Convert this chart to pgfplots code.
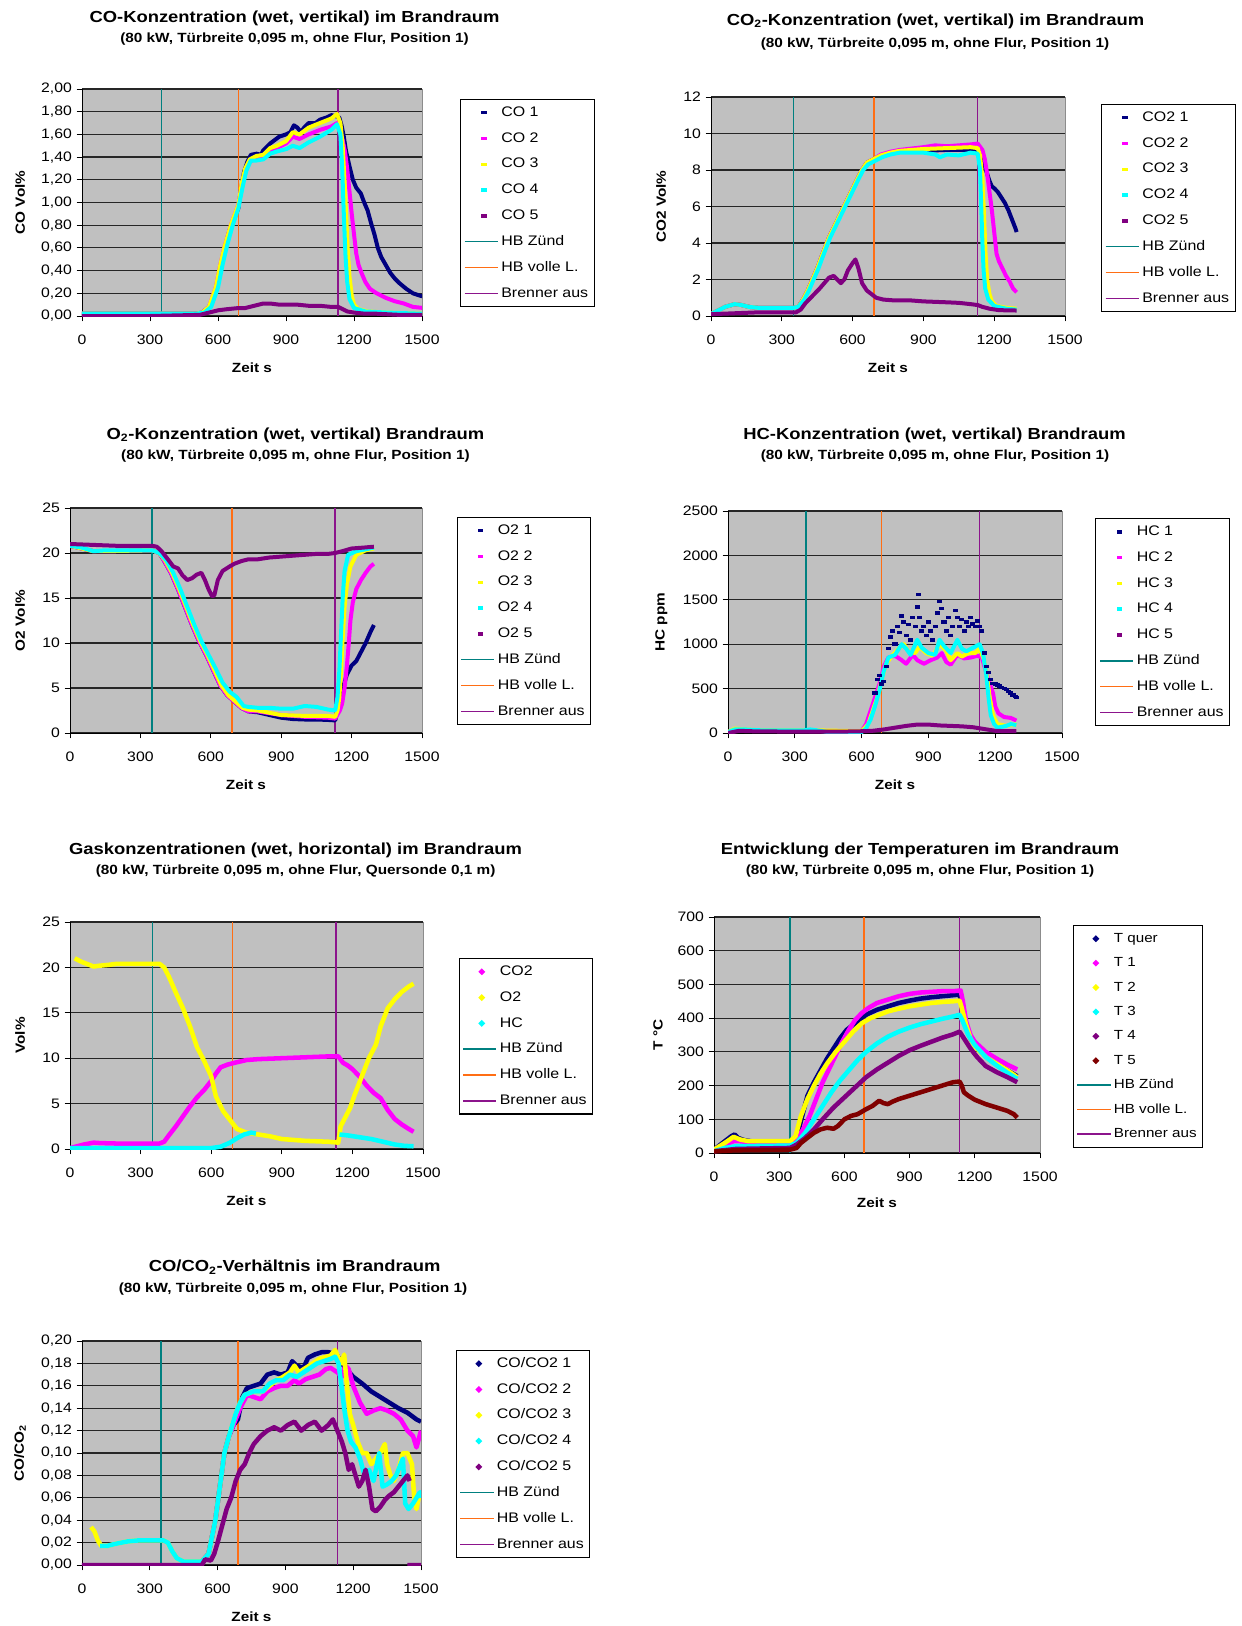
\documentclass[border=0pt]{standalone}
\usepackage{pgfplots}
\pgfplotsset{compat=1.18}
\usepackage{fontspec}
\setmainfont{Liberation Sans}[FakeStretch=1.15]
\definecolor{cnavy}{RGB}{0,0,128}
\definecolor{cmag}{RGB}{255,0,255}
\definecolor{cyel}{RGB}{255,255,0}
\definecolor{ccyan}{RGB}{0,255,255}
\definecolor{cpur}{RGB}{128,0,128}
\definecolor{cmar}{RGB}{128,0,0}
\definecolor{hbz}{RGB}{0,128,128}
\definecolor{hbv}{RGB}{255,110,20}
\definecolor{hba}{RGB}{140,20,140}
\definecolor{plotbg}{RGB}{192,192,192}

\pgfplotsset{
  excel/.style={
    scale only axis,
    xmin=0, xmax=1500, ymin=0,
    xtick={0,300,600,900,1200,1500},
    axis x line*=bottom, axis y line*=left,
    axis background/.style={fill=plotbg, draw=black!45, line width=0.5pt},
    ymajorgrids, grid style={black!85, line width=0.9pt},
    tick align=outside, major tick length=4pt,
    tick style={black, line width=0.7pt},
    axis line style={black, line width=0.7pt},
    ticklabel style={font=\fontsize{10.3}{12}\selectfont},
    xticklabel style={yshift=-7pt},
    scaled ticks=false,
    /pgf/number format/assume math mode=true,
    /pgf/number format/set thousands separator={},
    xlabel={Zeit s},
    xlabel style={at={(rel axis cs:0.5,0)}, anchor=center, yshift=-39pt, font=\bfseries\fontsize{10}{12}\selectfont},
    legend cell align=left,
    legend style={anchor=north west, draw=black, line width=0.8pt, fill=white,
      font=\fontsize{10.4}{12}\selectfont, inner xsep=2.5pt, inner ysep=2.6pt, row sep=4.86pt,
      nodes={inner sep=2pt, text height=8pt, text depth=2.5pt}},
    unbounded coords=jump,
  },
  ylab/.style 2 args={ylabel={#1}, every axis y label/.style={at={(rel axis cs:0,0.5)}, xshift=-#2, rotate=90, anchor=center, font=\bfseries\fontsize{10}{12}\selectfont}},
  dashleg/.style={legend image code/.code={\path[draw=none,fill=none] (0pt,-2pt) rectangle (25pt,2pt); \fill[draw=none] (12.5pt,-1.3pt) rectangle (16.5pt,1.3pt);}},
  diamleg/.style={legend image code/.code={\path[draw=none,fill=none] (0pt,-2pt) rectangle (25pt,2pt); \fill[draw=none] (14pt,-2.6pt) -- (16.6pt,0pt) -- (14pt,2.6pt) -- (11.4pt,0pt) -- cycle;}},
  ser/.style={line width=3pt, line join=round, dashleg},
  sert/.style={line width=3.4pt, line join=round, diamleg},
  two/.style={yticklabel style={/pgf/number format/.cd, fixed, fixed zerofill, precision=2, use comma}},
}

\newcommand{\vlines}[1]{%
  \addplot[forget plot, hbz, line width=1.2pt] coordinates {(350,0) (350,#1)};
  \addplot[forget plot, hbv, line width=1.2pt] coordinates {(690,0) (690,#1)};
  \addplot[forget plot, hba, line width=1.2pt] coordinates {(1130,0) (1130,#1)};
}
\newcommand{\vlegend}{%
  \addlegendimage{hbz, legend image code/.code={\draw[line width=1.1pt] (0pt,0pt) -- (25pt,0pt);}}
  \addlegendentry{HB Zünd}
  \addlegendimage{hbv, legend image code/.code={\draw[line width=1.1pt] (0pt,0pt) -- (25pt,0pt);}}
  \addlegendentry{HB volle L.}
  \addlegendimage{hba, legend image code/.code={\draw[line width=1.1pt] (0pt,0pt) -- (25pt,0pt);}}
  \addlegendentry{Brenner aus}
}
\newcommand{\tfont}{\bfseries\fontsize{12}{14}\selectfont}
\newcommand{\sfont}{\bfseries\fontsize{10}{12}\selectfont}

\begin{document}
\begin{tikzpicture}
\useasboundingbox (0pt,0pt) rectangle (930.75pt,-1219.5pt);

% ---------------- Titles ----------------
\node[font=\tfont] at (220.9pt,-13.5pt) {CO-Konzentration (wet, vertikal) im Brandraum};
\node[font=\sfont] at (220.9pt,-29.25pt) {(80 kW, Türbreite 0,095 m, ohne Flur, Position 1)};
\node[font=\tfont] at (701.6pt,-15.75pt) {CO\textsubscript{2}-Konzentration (wet, vertikal) im Brandraum};
\node[font=\sfont] at (701.25pt,-33pt) {(80 kW, Türbreite 0,095 m, ohne Flur, Position 1)};
\node[font=\tfont] at (221.6pt,-326.25pt) {O\textsubscript{2}-Konzentration (wet, vertikal) Brandraum};
\node[font=\sfont] at (221.6pt,-342pt) {(80 kW, Türbreite 0,095 m, ohne Flur, Position 1)};
\node[font=\tfont] at (700.9pt,-326.25pt) {HC-Konzentration (wet, vertikal) Brandraum};
\node[font=\sfont] at (701.25pt,-342pt) {(80 kW, Türbreite 0,095 m, ohne Flur, Position 1)};
\node[font=\tfont] at (221.6pt,-637.5pt) {Gaskonzentrationen (wet, horizontal) im Brandraum};
\node[font=\sfont] at (221.7pt,-653.25pt) {(80 kW, Türbreite 0,095 m, ohne Flur, Quersonde 0,1 m)};
\node[font=\tfont] at (690pt,-637.5pt) {Entwicklung der Temperaturen im Brandraum};
\node[font=\sfont] at (690pt,-653.25pt) {(80 kW, Türbreite 0,095 m, ohne Flur, Position 1)};
\node[font=\tfont] at (221pt,-950.25pt) {CO/CO\textsubscript{2}-Verhältnis im Brandraum};
\node[font=\sfont] at (219.75pt,-966.75pt) {(80 kW, Türbreite 0,095 m, ohne Flur, Position 1)};

% ---------------- Chart 1: CO ----------------
\begin{axis}[excel, at={(61.5pt,-237pt)}, anchor=south west, width=255pt, height=170.25pt,
  ymax=2, ytick={0,0.2,0.4,0.6,0.8,1,1.2,1.4,1.6,1.8,2}, two,
  ylab={CO Vol\%}{46.5pt},
  legend style={at={(rel axis cs:1.1118,0.956)}}]
\vlines{2}
\addplot[cnavy, ser] coordinates {(0,0.02) (300,0.02) (500,0.02) (530,0.03) (560,0.08) (580,0.15) (600,0.3) (615,0.45) (630,0.6) (650,0.75) (670,0.85) (690,0.95) (700,1.1) (715,1.27) (730,1.36) (745,1.42) (770,1.43) (790,1.42) (800,1.46) (830,1.52) (850,1.55) (870,1.58) (900,1.6) (920,1.62) (935,1.68) (950,1.66) (965,1.62) (980,1.66) (1000,1.7) (1030,1.7) (1050,1.73) (1080,1.75) (1100,1.77) (1120,1.76) (1135,1.75) (1145,1.68) (1155,1.58) (1165,1.45) (1180,1.32) (1195,1.2) (1210,1.13) (1230,1.08) (1245,1.0) (1260,0.93) (1275,0.82) (1290,0.72) (1305,0.6) (1320,0.52) (1340,0.45) (1360,0.38) (1380,0.33) (1400,0.29) (1430,0.24) (1460,0.2) (1490,0.18) (1510,0.17)};
\addlegendentry{CO 1}
\addplot[cmag, ser] coordinates {(0,0.02) (500,0.02) (530,0.03) (560,0.08) (590,0.25) (610,0.45) (630,0.62) (660,0.82) (690,0.98) (705,1.15) (720,1.28) (740,1.36) (770,1.39) (800,1.41) (830,1.46) (860,1.48) (900,1.52) (930,1.58) (960,1.56) (1000,1.6) (1050,1.64) (1100,1.67) (1125,1.7) (1140,1.62) (1150,1.55) (1160,1.45) (1170,1.3) (1180,1.1) (1190,0.9) (1200,0.72) (1210,0.55) (1220,0.45) (1235,0.37) (1250,0.3) (1270,0.24) (1300,0.2) (1340,0.16) (1380,0.13) (1420,0.11) (1460,0.08) (1510,0.07)};
\addlegendentry{CO 2}
\addplot[cyel, ser] coordinates {(0,0.02) (500,0.02) (530,0.03) (560,0.08) (590,0.25) (610,0.45) (630,0.62) (660,0.82) (690,0.98) (705,1.17) (720,1.3) (740,1.38) (770,1.41) (800,1.42) (830,1.48) (860,1.5) (900,1.54) (930,1.62) (960,1.6) (1000,1.66) (1050,1.7) (1100,1.74) (1125,1.78) (1140,1.7) (1150,1.5) (1158,1.2) (1165,0.9) (1172,0.6) (1180,0.35) (1190,0.18) (1200,0.1) (1220,0.06) (1260,0.04) (1350,0.03) (1500,0.02)};
\addlegendentry{CO 3}
\addplot[ccyan, ser] coordinates {(0,0.02) (500,0.02) (540,0.03) (570,0.08) (600,0.25) (620,0.45) (640,0.62) (665,0.8) (690,0.95) (710,1.15) (725,1.28) (745,1.37) (770,1.37) (800,1.38) (830,1.43) (860,1.45) (900,1.47) (930,1.5) (960,1.48) (1000,1.53) (1050,1.58) (1100,1.64) (1125,1.69) (1140,1.6) (1148,1.3) (1155,0.9) (1162,0.55) (1170,0.3) (1180,0.15) (1200,0.07) (1250,0.04) (1350,0.03) (1500,0.02)};
\addlegendentry{CO 4}
\addplot[cpur, ser] coordinates {(0,0.0) (300,0.0) (520,0.01) (560,0.03) (600,0.05) (640,0.06) (690,0.07) (720,0.07) (760,0.09) (800,0.11) (830,0.11) (870,0.1) (950,0.1) (1000,0.09) (1050,0.09) (1100,0.08) (1130,0.08) (1150,0.06) (1170,0.04) (1200,0.03) (1250,0.02) (1300,0.02) (1400,0.01) (1500,0.01)};
\addlegendentry{CO 5}
\vlegend
\end{axis}

% ---------------- Chart 2: CO2 ----------------
\begin{axis}[excel, at={(533.25pt,-237pt)}, anchor=south west, width=265.5pt, height=164.25pt,
  ymax=12, ytick={0,2,4,6,8,10,12},
  ylab={CO2 Vol\%}{37.5pt},
  legend style={at={(rel axis cs:1.1017,0.968)}}]
\vlines{12}
\addplot[cnavy, ser] coordinates {(0,0.1) (30,0.3) (60,0.5) (100,0.65) (130,0.6) (160,0.5) (200,0.45) (350,0.45) (370,0.5) (390,0.9) (410,1.4) (430,2.0) (450,2.6) (470,3.3) (500,4.3) (530,5.1) (560,5.9) (590,6.7) (620,7.5) (640,8.0) (660,8.4) (690,8.6) (720,8.8) (760,8.95) (800,9.0) (850,9.0) (900,9.05) (1000,9.1) (1100,9.1) (1130,9.1) (1140,9.0) (1150,8.6) (1160,8.2) (1170,7.8) (1180,7.4) (1190,7.1) (1200,7.0) (1215,6.8) (1230,6.5) (1245,6.2) (1260,5.8) (1275,5.3) (1290,4.8) (1295,4.6)};
\addlegendentry{CO2 1}
\addplot[cmag, ser] coordinates {(0,0.1) (30,0.3) (60,0.5) (100,0.65) (130,0.6) (160,0.5) (200,0.45) (350,0.45) (370,0.5) (390,0.9) (410,1.4) (430,2.0) (450,2.6) (470,3.3) (500,4.3) (530,5.1) (560,5.9) (590,6.7) (620,7.5) (640,8.0) (660,8.4) (690,8.6) (720,8.85) (760,9.0) (800,9.1) (900,9.25) (950,9.35) (1000,9.3) (1050,9.35) (1100,9.4) (1130,9.45) (1150,9.1) (1160,8.6) (1170,7.8) (1180,6.8) (1190,5.8) (1200,4.6) (1210,3.4) (1220,3.0) (1235,2.6) (1250,2.2) (1265,1.9) (1280,1.5) (1295,1.3)};
\addlegendentry{CO2 2}
\addplot[cyel, ser] coordinates {(0,0.1) (30,0.3) (60,0.5) (100,0.65) (130,0.6) (160,0.5) (200,0.45) (350,0.45) (370,0.5) (390,0.9) (410,1.4) (430,2.0) (450,2.6) (470,3.3) (500,4.3) (530,5.1) (560,5.9) (590,6.7) (620,7.5) (640,8.0) (660,8.4) (690,8.6) (720,8.8) (760,8.95) (800,9.05) (900,9.15) (1000,9.2) (1100,9.25) (1130,9.2) (1140,8.8) (1150,7.5) (1157,5.5) (1163,3.5) (1170,2.0) (1180,1.2) (1190,0.8) (1210,0.55) (1250,0.45) (1295,0.4)};
\addlegendentry{CO2 3}
\addplot[ccyan, ser] coordinates {(0,0.1) (30,0.3) (60,0.5) (100,0.65) (130,0.6) (160,0.5) (200,0.45) (350,0.45) (370,0.5) (395,0.9) (415,1.4) (435,2.0) (455,2.6) (475,3.3) (505,4.3) (535,5.1) (565,5.9) (595,6.7) (625,7.5) (645,8.0) (665,8.3) (695,8.5) (725,8.7) (760,8.85) (800,8.95) (900,8.95) (950,8.85) (970,8.7) (1000,8.85) (1050,8.8) (1100,8.95) (1130,8.9) (1140,8.0) (1145,6.0) (1150,4.0) (1155,2.5) (1162,1.5) (1175,0.9) (1200,0.55) (1250,0.4) (1295,0.35)};
\addlegendentry{CO2 4}
\addplot[cpur, ser] coordinates {(0,0.1) (100,0.15) (200,0.2) (360,0.2) (380,0.35) (400,0.7) (430,1.1) (460,1.5) (480,1.8) (500,2.1) (520,2.2) (535,2.0) (550,1.8) (565,2.0) (580,2.5) (600,2.9) (612,3.1) (625,2.6) (640,1.8) (660,1.4) (680,1.2) (700,1.0) (730,0.9) (780,0.85) (850,0.85) (900,0.8) (1000,0.75) (1050,0.72) (1100,0.65) (1130,0.6) (1150,0.5) (1180,0.4) (1220,0.32) (1295,0.3)};
\addlegendentry{CO2 5}
\vlegend
\end{axis}

% ---------------- Chart 3: O2 ----------------
\begin{axis}[excel, at={(52.5pt,-549.75pt)}, anchor=south west, width=264pt, height=168.75pt,
  ymax=25, ytick={0,5,10,15,20,25},
  ylab={O2 Vol\%}{37.5pt},
  legend style={at={(rel axis cs:1.098,0.96)}}]
\vlines{25}
\addplot[cnavy, ser] coordinates {(0,20.8) (50,20.5) (100,20.2) (150,20.2) (350,20.3) (380,20.0) (400,19.2) (430,17.8) (460,16.0) (490,14.0) (520,12.0) (550,10.2) (580,8.7) (610,7.0) (640,5.3) (670,4.2) (700,3.5) (730,2.8) (760,2.4) (800,2.3) (850,2.0) (900,1.7) (950,1.55) (1000,1.5) (1050,1.5) (1100,1.45) (1130,1.4) (1140,2.5) (1150,3.8) (1165,5.2) (1180,6.5) (1200,7.5) (1220,8.0) (1240,9.0) (1260,10.0) (1280,11.2) (1295,12.0)};
\addlegendentry{O2 1}
\addplot[cmag, ser] coordinates {(0,20.8) (50,20.5) (100,20.2) (150,20.2) (350,20.3) (380,20.0) (400,19.2) (430,17.8) (460,16.0) (490,14.0) (520,12.0) (550,10.2) (580,8.7) (610,7.0) (640,5.3) (670,4.2) (700,3.5) (730,2.8) (760,2.4) (800,2.4) (900,2.0) (1000,1.8) (1100,1.7) (1130,1.6) (1150,2.5) (1160,3.3) (1170,5.0) (1180,7.5) (1188,10.0) (1195,12.5) (1205,14.5) (1220,16.0) (1240,17.0) (1260,17.8) (1280,18.5) (1295,18.8)};
\addlegendentry{O2 2}
\addplot[cyel, ser] coordinates {(0,20.8) (50,20.5) (100,20.2) (150,20.2) (350,20.3) (380,20.0) (405,19.2) (435,17.8) (465,16.0) (495,14.0) (525,12.0) (555,10.2) (585,8.7) (615,7.0) (645,5.3) (675,4.2) (705,3.5) (735,2.8) (760,2.6) (800,2.5) (900,2.0) (1000,1.9) (1100,1.9) (1130,1.8) (1140,2.5) (1148,4.0) (1155,7.0) (1162,10.5) (1170,14.0) (1180,16.5) (1195,18.5) (1220,19.8) (1260,20.3) (1295,20.5)};
\addlegendentry{O2 3}
\addplot[ccyan, ser] coordinates {(0,20.8) (50,20.6) (100,20.2) (150,20.3) (350,20.3) (380,20.0) (410,19.2) (440,17.8) (470,16.0) (500,14.0) (530,12.0) (560,10.2) (590,8.7) (620,7.2) (650,5.6) (680,4.6) (710,4.0) (740,3.0) (760,2.9) (800,2.8) (850,2.8) (900,2.7) (950,2.7) (1000,3.0) (1050,2.9) (1100,2.6) (1130,2.5) (1140,4.0) (1148,7.0) (1155,11.0) (1162,15.0) (1170,18.0) (1185,19.8) (1220,20.2) (1295,20.6)};
\addlegendentry{O2 4}
\addplot[cpur, ser] coordinates {(0,21.0) (100,20.9) (200,20.8) (350,20.8) (370,20.7) (390,20.2) (420,19.2) (440,18.5) (460,18.3) (480,17.5) (500,17.0) (520,17.2) (540,17.6) (560,17.8) (575,17.0) (590,16.0) (605,15.2) (615,15.3) (630,17.0) (650,18.0) (680,18.5) (700,18.8) (730,19.1) (760,19.3) (800,19.3) (850,19.5) (900,19.6) (950,19.7) (1000,19.8) (1050,19.9) (1100,19.9) (1130,20.0) (1160,20.2) (1200,20.5) (1250,20.6) (1295,20.7)};
\addlegendentry{O2 5}
\vlegend
\end{axis}

% ---------------- Chart 4: HC ----------------
\begin{axis}[excel, at={(546pt,-549.75pt)}, anchor=south west, width=250.5pt, height=166.5pt,
  ymax=2500, ytick={0,500,1000,1500,2000,2500},
  ylab={HC ppm}{50pt},
  legend style={at={(rel axis cs:1.100,0.968)}}]
\vlines{2500}
\addplot[cnavy, only marks, mark=-, mark size=1.9pt, mark options={line width=2.6pt}, dashleg] coordinates {(660,450) (670,600) (680,650) (690,550) (700,580) (710,750) (720,950) (730,1080) (740,1150) (750,1000) (760,1200) (770,1130) (780,1320) (790,1250) (800,1100) (810,1220) (820,1050) (830,1300) (840,1200) (850,1420) (855,1560) (860,1300) (870,1150) (880,1200) (890,1100) (900,1250) (910,1150) (920,1050) (930,1200) (940,1350) (950,1480) (960,1400) (970,1250) (980,1150) (990,1300) (1000,1100) (1010,1200) (1020,1380) (1030,1300) (1040,1200) (1050,1280) (1060,1150) (1070,1250) (1080,1200) (1090,1300) (1100,1230) (1110,1200) (1120,1260) (1130,1200) (1140,1150) (1150,900) (1160,750) (1170,680) (1180,600) (1190,560) (1200,550) (1210,540) (1220,530) (1230,515) (1240,500) (1250,490) (1260,470) (1270,450) (1280,430) (1290,410) (1295,400)};
\addlegendentry{HC 1}
\addplot[cmag, ser] coordinates {(0,10) (30,40) (80,35) (150,25) (600,20) (620,100) (640,250) (660,400) (680,550) (700,750) (720,850) (750,870) (780,820) (800,780) (830,880) (850,820) (880,780) (910,820) (940,850) (960,900) (980,800) (1000,770) (1030,880) (1060,840) (1090,850) (1120,870) (1140,850) (1155,720) (1170,600) (1190,450) (1200,300) (1215,220) (1240,180) (1270,170) (1295,140)};
\addlegendentry{HC 2}
\addplot[cyel, ser] coordinates {(0,10) (30,50) (80,40) (150,30) (340,30) (400,30) (600,20) (630,100) (650,250) (670,400) (690,600) (710,780) (740,880) (770,960) (790,1000) (810,920) (840,900) (860,970) (890,900) (920,870) (950,1000) (980,930) (1000,820) (1030,900) (1050,860) (1080,900) (1110,900) (1130,950) (1150,820) (1165,600) (1175,400) (1190,200) (1210,100) (1250,80) (1295,100)};
\addlegendentry{HC 3}
\addplot[ccyan, ser] coordinates {(0,10) (30,40) (80,40) (150,30) (340,30) (370,40) (400,30) (450,10) (600,10) (620,50) (640,150) (660,300) (680,480) (700,700) (720,850) (750,880) (780,1000) (800,950) (820,880) (850,1050) (870,960) (900,900) (930,880) (950,1050) (970,980) (1000,900) (1030,1050) (1050,950) (1070,920) (1100,960) (1130,1000) (1145,900) (1160,650) (1170,400) (1180,200) (1195,100) (1210,60) (1250,80) (1270,100) (1295,90)};
\addlegendentry{HC 4}
\addplot[cpur, ser] coordinates {(0,0) (50,25) (100,20) (300,15) (500,15) (600,20) (650,25) (700,40) (750,60) (800,80) (850,95) (900,95) (950,85) (1000,80) (1050,75) (1100,65) (1150,45) (1200,25) (1250,20) (1295,20)};
\addlegendentry{HC 5}
\vlegend
\end{axis}

% ---------------- Chart 5: Gas horizontal ----------------
\begin{axis}[excel, at={(52.5pt,-861.75pt)}, anchor=south west, width=264.75pt, height=170.25pt,
  ymax=25, ytick={0,5,10,15,20,25},
  ylab={Vol\%}{37.5pt},
  legend style={at={(rel axis cs:1.1006,0.841)}}]
\vlines{25}
\addplot[cmag, sert] coordinates {(0,0.1) (30,0.3) (60,0.5) (100,0.7) (130,0.65) (200,0.6) (300,0.6) (380,0.6) (400,0.8) (420,1.5) (450,2.5) (480,3.6) (510,4.7) (540,5.7) (570,6.5) (600,7.5) (620,8.3) (640,9.0) (670,9.3) (700,9.5) (750,9.8) (800,9.9) (900,10.0) (1000,10.1) (1100,10.2) (1140,10.2) (1160,9.5) (1180,9.2) (1200,8.8) (1230,8.0) (1260,7.0) (1290,6.2) (1320,5.6) (1350,4.3) (1380,3.3) (1410,2.7) (1440,2.2) (1460,1.9)};
\addlegendentry{CO2}
\addplot[cyel, sert] coordinates {(20,21.0) (50,20.6) (80,20.3) (100,20.1) (130,20.2) (170,20.3) (200,20.4) (300,20.4) (380,20.4) (400,20.0) (420,19.0) (450,17.2) (480,15.5) (510,13.5) (540,11.2) (570,9.7) (600,8.0) (620,5.8) (650,4.2) (680,3.2) (710,2.2) (750,1.8) (800,1.6) (850,1.4) (900,1.1) (950,1.0) (1000,0.9) (1100,0.8) (1140,0.7) (1150,2.5) (1170,3.5) (1190,4.5) (1210,6.0) (1240,8.0) (1270,10.0) (1300,11.5) (1320,13.5) (1350,15.5) (1380,16.5) (1410,17.3) (1440,17.9) (1460,18.2)};
\addlegendentry{O2}
\addplot[ccyan, sert] coordinates {(0,0.1) (300,0.1) (600,0.1) (640,0.25) (680,0.7) (710,1.2) (740,1.6) (770,1.8) (790,1.7) (900,nan) (1145,1.6) (1180,1.5) (1230,1.3) (1280,1.1) (1330,0.8) (1380,0.5) (1420,0.35) (1460,0.3)};
\addlegendentry{HC}
\vlegend
\end{axis}

% ---------------- Chart 6: Temperatures ----------------
\begin{axis}[excel, at={(535.5pt,-864.75pt)}, anchor=south west, width=244.5pt, height=177pt,
  ymax=700, ytick={0,100,200,300,400,500,600,700},
  ylab={T °C}{42pt},
  xlabel style={yshift=2pt},
  legend style={at={(rel axis cs:1.10,0.966)}, font=\fontsize{9.9}{12}\selectfont, row sep=3.8pt}]
\vlines{700}
\addplot[cnavy, sert] coordinates {(0,10) (20,20) (40,30) (60,40) (80,50) (95,55) (110,45) (140,38) (200,32) (300,30) (350,30) (370,35) (390,70) (410,120) (430,170) (460,210) (490,245) (520,280) (550,310) (580,340) (610,365) (640,380) (670,395) (700,410) (750,425) (800,435) (850,445) (900,452) (950,458) (1000,462) (1050,465) (1100,468) (1130,470) (1140,440) (1160,375) (1180,340) (1200,320) (1250,290) (1300,265) (1350,245) (1395,228)};
\addlegendentry{T quer}
\addplot[cmag, sert] coordinates {(0,5) (50,25) (90,35) (120,35) (160,32) (350,30) (380,40) (410,70) (440,110) (470,160) (500,210) (530,250) (560,290) (590,330) (620,365) (650,395) (680,415) (710,430) (750,445) (800,455) (850,465) (900,472) (950,476) (1000,478) (1050,480) (1100,480) (1135,482) (1145,450) (1160,390) (1180,350) (1200,330) (1250,300) (1300,280) (1350,262) (1395,248)};
\addlegendentry{T 1}
\addplot[cyel, sert] coordinates {(0,10) (50,30) (90,48) (120,40) (160,35) (350,35) (375,50) (400,110) (430,160) (460,200) (490,235) (520,265) (560,300) (600,330) (640,360) (680,385) (720,400) (760,410) (800,420) (850,428) (900,435) (950,440) (1000,445) (1050,448) (1100,450) (1130,452) (1140,430) (1160,380) (1180,340) (1200,315) (1250,285) (1300,265) (1350,245) (1395,225)};
\addlegendentry{T 2}
\addplot[ccyan, sert] coordinates {(0,5) (50,15) (100,20) (350,22) (380,30) (420,60) (460,100) (500,140) (540,180) (580,215) (620,245) (660,275) (700,300) (750,325) (800,345) (850,360) (900,372) (950,382) (1000,390) (1050,398) (1100,405) (1130,410) (1145,390) (1170,350) (1200,320) (1250,285) (1300,260) (1350,238) (1395,220)};
\addlegendentry{T 3}
\addplot[cpur, sert] coordinates {(0,5) (100,12) (350,15) (380,25) (420,45) (460,70) (500,100) (550,135) (600,165) (650,195) (700,225) (750,248) (800,268) (850,288) (900,305) (950,318) (1000,330) (1050,342) (1100,352) (1130,360) (1150,340) (1180,310) (1210,285) (1250,258) (1300,240) (1350,225) (1395,210)};
\addlegendentry{T 4}
\addplot[cmar, sert] coordinates {(0,5) (100,8) (350,10) (380,15) (400,30) (430,45) (460,60) (490,70) (520,75) (550,72) (570,80) (600,100) (630,110) (660,115) (700,130) (730,140) (760,155) (780,148) (800,145) (820,152) (850,160) (900,170) (950,180) (1000,190) (1050,200) (1100,210) (1130,212) (1140,200) (1150,180) (1170,170) (1200,158) (1250,145) (1300,135) (1350,125) (1380,115) (1395,105)};
\addlegendentry{T 5}
\vlegend
\end{axis}

% ---------------- Chart 7: CO/CO2 ----------------
\begin{axis}[excel, at={(61.5pt,-1173.75pt)}, anchor=south west, width=254.25pt, height=168pt,
  ymax=0.2, ytick={0,0.02,0.04,0.06,0.08,0.1,0.12,0.14,0.16,0.18,0.2}, two,
  ylab={CO/CO\textsubscript{2}}{46.5pt},
  legend style={at={(rel axis cs:1.102,0.96)}}]
\vlines{0.2}
\addplot[cnavy, sert] coordinates {(530,0.003) (560,0.01) (590,0.04) (610,0.07) (630,0.1) (650,0.115) (670,0.125) (690,0.13) (710,0.15) (730,0.158) (760,0.16) (790,0.162) (820,0.17) (850,0.172) (880,0.17) (910,0.172) (930,0.182) (950,0.178) (980,0.176) (1000,0.185) (1030,0.188) (1060,0.19) (1090,0.19) (1110,0.189) (1130,0.187) (1150,0.18) (1170,0.175) (1200,0.168) (1240,0.162) (1280,0.155) (1320,0.15) (1360,0.145) (1400,0.14) (1440,0.136) (1480,0.13) (1500,0.128)};
\addlegendentry{CO/CO2 1}
\addplot[cmag, sert] coordinates {(530,0.003) (560,0.01) (590,0.04) (610,0.07) (630,0.1) (650,0.115) (680,0.13) (700,0.14) (730,0.152) (760,0.15) (790,0.148) (820,0.155) (850,0.158) (880,0.16) (910,0.16) (940,0.165) (960,0.162) (990,0.166) (1020,0.168) (1050,0.17) (1080,0.175) (1100,0.176) (1130,0.172) (1150,0.168) (1165,0.178) (1180,0.175) (1200,0.16) (1230,0.145) (1260,0.135) (1290,0.138) (1320,0.14) (1350,0.138) (1380,0.135) (1410,0.13) (1440,0.12) (1465,0.115) (1480,0.105) (1500,0.12)};
\addlegendentry{CO/CO2 2}
\addplot[cyel, sert] coordinates {(40,0.034) (55,0.03) (70,0.022) (85,0.017) (110,0.017) (150,0.019) (200,0.021) (250,0.022) (300,0.022) (360,0.022) (380,0.02) (400,0.012) (420,0.006) (450,0.003) (500,0.003) (530,0.003) (560,0.01) (590,0.04) (610,0.07) (630,0.1) (650,0.115) (680,0.135) (700,0.145) (720,0.152) (760,0.155) (800,0.155) (830,0.16) (860,0.165) (890,0.168) (920,0.172) (940,0.178) (960,0.172) (990,0.176) (1020,0.18) (1050,0.184) (1080,0.186) (1100,0.187) (1120,0.192) (1135,0.185) (1150,0.18) (1160,0.188) (1170,0.165) (1185,0.135) (1200,0.125) (1220,0.11) (1240,0.1) (1260,0.1) (1280,0.09) (1300,0.095) (1320,0.1) (1340,0.108) (1350,0.09) (1365,0.08) (1380,0.075) (1400,0.085) (1420,0.1) (1440,0.1) (1460,0.09) (1470,0.06) (1480,0.05) (1490,0.06)};
\addlegendentry{CO/CO2 3}
\addplot[ccyan, sert] coordinates {(80,0.017) (110,0.017) (150,0.019) (200,0.021) (250,0.022) (300,0.022) (360,0.022) (380,0.02) (400,0.012) (420,0.006) (450,0.003) (500,0.003) (530,0.003) (560,0.01) (590,0.04) (610,0.07) (630,0.1) (650,0.115) (680,0.135) (700,0.145) (720,0.152) (760,0.155) (800,0.155) (830,0.162) (860,0.165) (890,0.165) (920,0.17) (950,0.168) (980,0.172) (1010,0.176) (1040,0.18) (1070,0.182) (1100,0.184) (1120,0.186) (1135,0.18) (1145,0.165) (1160,0.14) (1175,0.12) (1190,0.11) (1210,0.105) (1230,0.095) (1250,0.08) (1270,0.085) (1290,0.075) (1305,0.09) (1315,0.1) (1330,0.07) (1350,0.072) (1370,0.075) (1390,0.08) (1410,0.09) (1420,0.095) (1430,0.055) (1445,0.05) (1465,0.055) (1480,0.06) (1495,0.065) (1500,0.06)};
\addlegendentry{CO/CO2 4}
\addplot[cpur, sert] coordinates {(0,0) (200,0) (400,0) (530,0) (545,0.005) (570,0.004) (585,0.01) (600,0.02) (620,0.035) (640,0.05) (660,0.06) (680,0.075) (700,0.085) (720,0.09) (740,0.1) (760,0.108) (790,0.115) (820,0.12) (850,0.123) (880,0.12) (910,0.125) (940,0.128) (970,0.12) (1000,0.125) (1030,0.128) (1060,0.12) (1090,0.125) (1110,0.13) (1130,0.12) (1150,0.11) (1165,0.1) (1180,0.085) (1195,0.09) (1210,0.08) (1225,0.07) (1240,0.075) (1255,0.085) (1270,0.07) (1285,0.05) (1300,0.048) (1320,0.052) (1340,0.058) (1360,0.062) (1380,0.065) (1400,0.07) (1420,0.075) (1440,0.08) (1450,0.075) (1460,nan) (1440,0) (1470,0) (1500,0)};
\addlegendentry{CO/CO2 5}
\vlegend
\end{axis}
\end{tikzpicture}
\end{document}
